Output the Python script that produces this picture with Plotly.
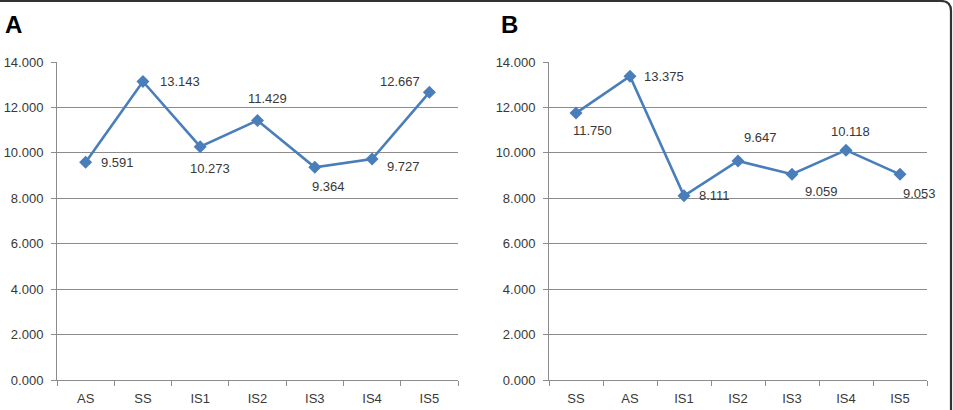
import plotly.graph_objects as go

# ---- data ----
cats_a = ["AS", "SS", "IS1", "IS2", "IS3", "IS4", "IS5"]
vals_a = [9.591, 13.143, 10.273, 11.429, 9.364, 9.727, 12.667]
cats_b = ["SS", "AS", "IS1", "IS2", "IS3", "IS4", "IS5"]
vals_b = [11.750, 13.375, 8.111, 9.647, 9.059, 10.118, 9.053]
y_ticks = [0, 2, 4, 6, 8, 10, 12, 14]

# label placement (pixel offsets: xshift, yshift, xanchor)
lab_a = [(13, 0, "left"), (15, 0, "left"), (10, -22, "center"), (10, 22, "center"),
         (14, -19, "center"), (13, -7, "left"), (-7, 11, "right")]
lab_b = [(16, -17, "center"), (12, 0, "left"), (13, 0, "left"), (22, 23, "center"),
         (29, -17, "center"), (4, 19, "center"), (19, -19, "center")]

W, H = 953, 410
LINE = "#4A7EBB"
GRID = "#8C8C8C"
TXT = "#383838"
FONT = "Liberation Sans, Arial, sans-serif"

fig = go.Figure()
fig.add_trace(go.Scatter(x=cats_a, y=vals_a, mode="lines+markers", xaxis="x", yaxis="y",
                         line=dict(color=LINE, width=2.6),
                         marker=dict(symbol="diamond", size=10, color=LINE),
                         showlegend=False, hoverinfo="skip"))
fig.add_trace(go.Scatter(x=cats_b, y=vals_b, mode="lines+markers", xaxis="x2", yaxis="y2",
                         line=dict(color=LINE, width=2.6),
                         marker=dict(symbol="diamond", size=10, color=LINE),
                         showlegend=False, hoverinfo="skip"))

annotations = []
for cats, vals, labs, xr, yr in [(cats_a, vals_a, lab_a, "x", "y"), (cats_b, vals_b, lab_b, "x2", "y2")]:
    for c, v, (dx, dy, anc) in zip(cats, vals, labs):
        annotations.append(dict(x=c, y=v, xref=xr, yref=yr, text=f"{v:.3f}", showarrow=False,
                                xshift=dx, yshift=dy, xanchor=anc, yanchor="middle",
                                font=dict(family=FONT, size=13, color=TXT)))

annotations.append(dict(x=3 / W, y=1 - 24 / H, xref="paper", yref="paper", text="<b>A</b>",
                        showarrow=False, xanchor="left", yanchor="middle",
                        font=dict(family=FONT, size=24, color="#000")))
annotations.append(dict(x=499 / W, y=1 - 24 / H, xref="paper", yref="paper", text="<b>B</b>",
                        showarrow=False, xanchor="left", yanchor="middle",
                        font=dict(family=FONT, size=24, color="#000")))

def xaxis(domain, anchor):
    return dict(domain=domain, anchor=anchor, type="category", range=[-0.5, 6.5],
                showline=True, linecolor=GRID, linewidth=1, ticks="outside", tickson="boundaries",
                ticklen=5, tickcolor=GRID, showgrid=False, zeroline=False, automargin=False,
                ticklabelstandoff=6,
                tickfont=dict(family=FONT, size=13, color=TXT), fixedrange=True)

def yaxis(domain, anchor):
    return dict(domain=domain, anchor=anchor, range=[0, 14], tickvals=y_ticks, tickformat=".3f",
                showline=True, linecolor=GRID, linewidth=1, ticks="outside", ticklen=5,
                tickcolor=GRID, showgrid=True, gridcolor=GRID, gridwidth=1, zeroline=False,
                automargin=False, ticklabelstandoff=5,
                tickfont=dict(family=FONT, size=13, color=TXT), fixedrange=True)

ydom = [1 - 380 / H, 1 - 62 / H]
fig.update_layout(
    template="none",
    width=W, height=H, margin=dict(l=0, r=0, t=0, b=0, pad=0, autoexpand=False),
    paper_bgcolor="white", plot_bgcolor="white",
    xaxis=xaxis([57 / W, 458 / W], "y"),
    yaxis=yaxis(ydom, "x"),
    xaxis2=xaxis([549 / W, 927 / W], "y2"),
    yaxis2=yaxis(ydom, "x2"),
    annotations=annotations,
)

# outer frame: top edge + rounded top-right corner + right edge
def px(x):
    return x / W

def py(y):
    return 1 - y / H

path = (f"M {px(0)},{py(1)} L {px(941)},{py(1)} Q {px(951)},{py(1)} {px(951)},{py(11)} "
        f"L {px(951)},{py(410)}")
fig.add_shape(type="path", path=path, xref="paper", yref="paper",
              line=dict(color="#333333", width=2.2))

fig.write_html("out.html")
